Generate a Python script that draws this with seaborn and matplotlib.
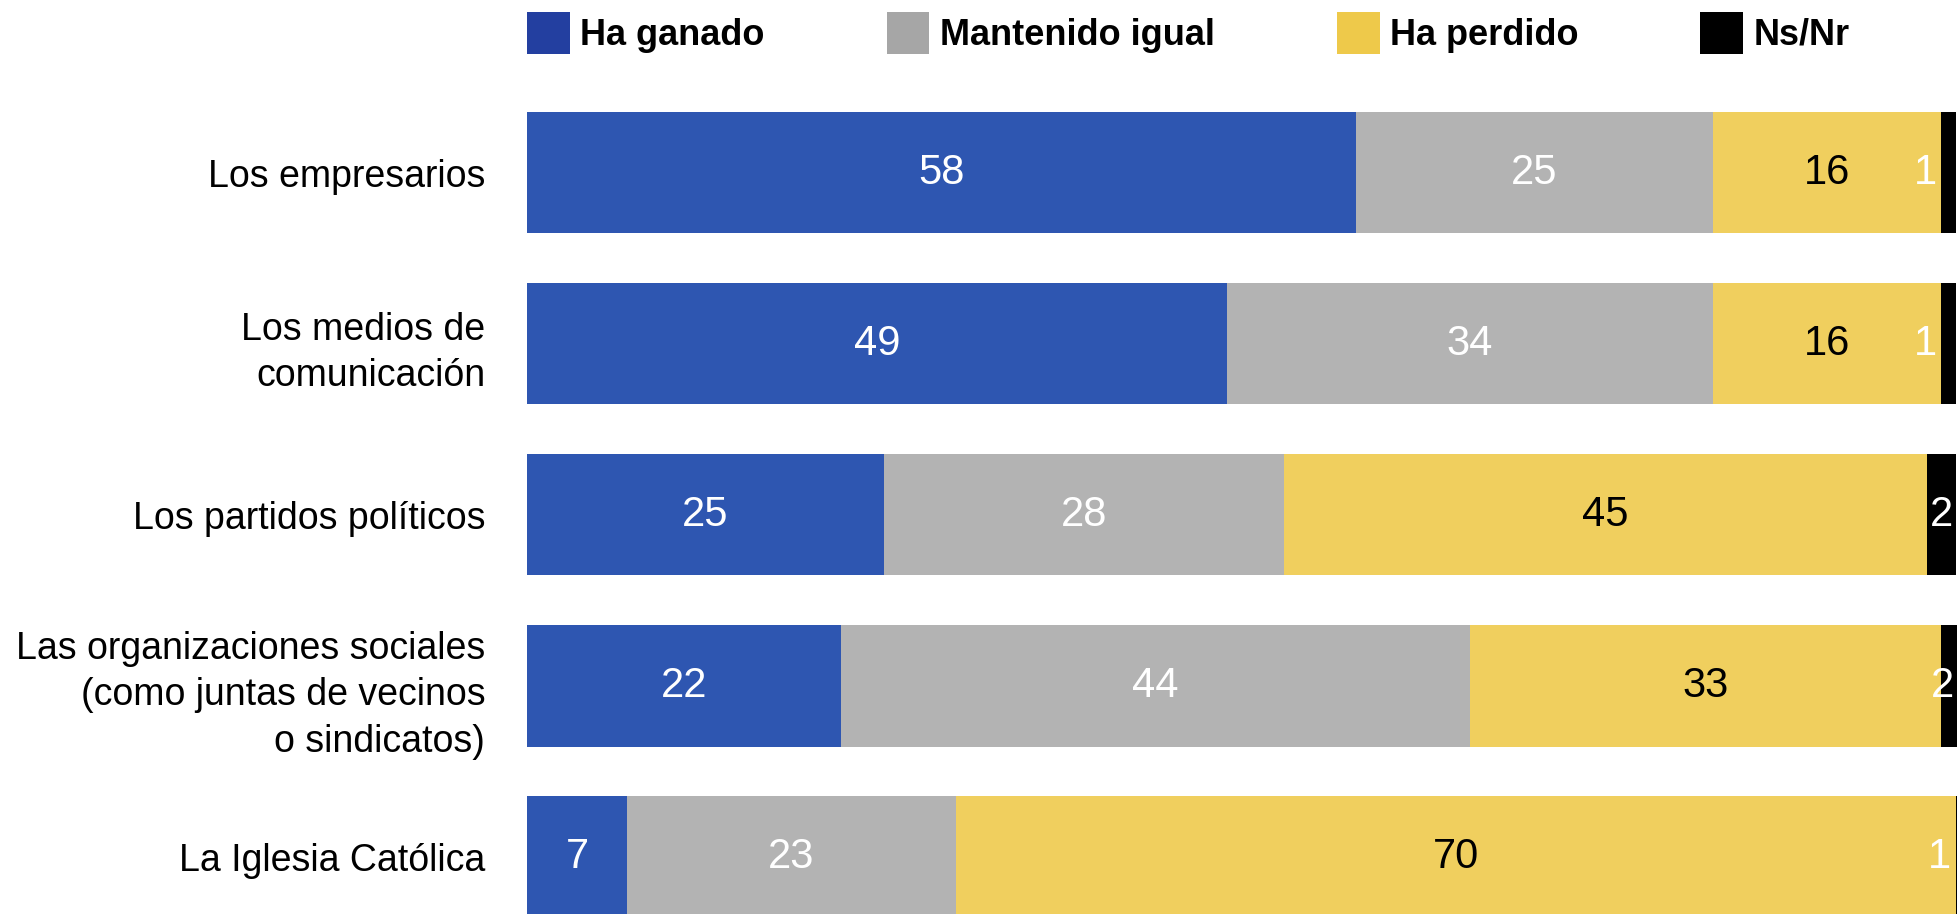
import numpy as np
import pandas as pd
import matplotlib
matplotlib.use("Agg")
import matplotlib.pyplot as plt
from matplotlib.patches import Patch
import seaborn as sns

categorias = [
    "Los empresarios",
    "Los medios de\ncomunicación",
    "Los partidos políticos",
    "Las organizaciones sociales\n(como juntas de vecinos\no sindicatos)",
    "La Iglesia Católica",
]
series = ["Ha ganado", "Mantenido igual", "Ha perdido", "Ns/Nr"]
ha_ganado = [58, 49, 25, 22, 7]
mantenido = [25, 34, 28, 44, 23]
ha_perdido = [16, 16, 45, 33, 70]
ns_nr = [1, 1, 2, 2, 1]

colores = ["#2E56B1", "#B3B3B3", "#F0CF5E", "#000000"]
colores_leyenda = ["#233FA0", "#A6A6A6", "#EEC94A", "#000000"]
color_texto = ["white", "white", "black", "white"]

sns.set_style("white")
plt.rcParams["font.family"] = ["Liberation Sans", "DejaVu Sans"]
plt.rcParams["text.color"] = "black"
plt.rcParams["ytick.color"] = "black"

df = pd.DataFrame({"categoria": categorias, series[0]: ha_ganado,
                   series[1]: mantenido, series[2]: ha_perdido, series[3]: ns_nr})
acum = df[series].cumsum(axis=1)

fig = plt.figure(figsize=(19.57, 9.14), dpi=100)
ax = fig.add_axes([527 / 1957, 0, 1 - 527 / 1957, 1])

# stacked bars: draw cumulative totals from the back to the front
for s, c in reversed(list(zip(series, colores))):
    sns.barplot(data=acum.assign(categoria=categorias), x=s, y="categoria",
                orient="h", color=c, saturation=1, width=0.708,
                linewidth=0, ax=ax)

# value labels
for j, s in enumerate(series):
    izq = acum[s] - df[s]
    for i, v in enumerate(df[s]):
        x = izq[i] + v / 2
        if v <= 1:
            x -= 1.6
        elif j == 3:
            x = min(x, 99.1)
        ax.text(x, i, str(v), ha="center", va="center",
                color=color_texto[j], fontsize=30)

ax.set_xlim(0, 100.1)
ax.set_ylim(4.333, -1.01)
ax.set_xlabel("")
ax.set_ylabel("")
ax.set_xticks([])
ax.tick_params(axis="y", length=0, pad=30, labelsize=27)
for lbl in ax.get_yticklabels():
    lbl.set_linespacing(1.38)
for sp in ax.spines.values():
    sp.set_visible(False)

handles = [Patch(facecolor=c, edgecolor="none") for c in colores_leyenda]
fig.legend(handles, series, loc="upper left",
           bbox_to_anchor=(527 / 1957, 1 - 12 / 914), ncol=4, frameon=False,
           prop={"size": 26, "weight": "bold"}, handlelength=1.19,
           handleheight=1.4, handletextpad=0.28, columnspacing=3.38,
           borderpad=0, borderaxespad=0)

fig.savefig("out.png", dpi=100)
